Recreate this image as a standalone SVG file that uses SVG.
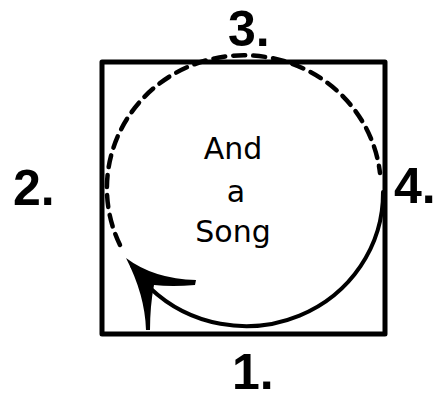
<svg xmlns="http://www.w3.org/2000/svg" width="440" height="400" viewBox="0 0 440 400">
<style>
.num{font-family:"Liberation Sans",Arial,sans-serif;font-weight:bold;font-size:50px;fill:#000}
.hand{font-family:"DejaVu Sans","Liberation Sans",sans-serif;font-size:30px;fill:#000;text-anchor:middle}
.ln{fill:none;stroke:#000;stroke-linecap:round;stroke-linejoin:round}
</style>
<rect width="440" height="400" fill="#fff"/>
<g id="box"><rect class="ln" x="102" y="62" width="283" height="272" stroke-width="5"/></g>
<g id="connectors">
<path class="ln" d="M120,245 A137,133 0 1 1 380,173" stroke-width="4.5" stroke-dasharray="12,8" stroke-linecap="butt"/>
<path class="ln" d="M383,192 A137,133 0 0 1 150,288 Q140,278 132,266" stroke-width="4"/>
<path d="M126,258 Q154,279 196,280 L195,285 Q172,287 154,285 Q150,306 150,330 L146,330 Q145,295 126,258 Z" fill="#000"/>
</g>
<g id="label-center">
<text class="hand" x="233" y="159">And</text>
<text class="hand" x="236" y="202">a</text>
<text class="hand" x="233" y="242">Song</text>
</g>
<g id="n3"><text class="num" x="228" y="46">3.</text></g>
<g id="n1"><text class="num" x="232" y="389">1.</text></g>
<g id="n2"><text class="num" x="13" y="205">2.</text></g>
<g id="n4"><text class="num" x="394" y="203">4.</text></g>
</svg>
